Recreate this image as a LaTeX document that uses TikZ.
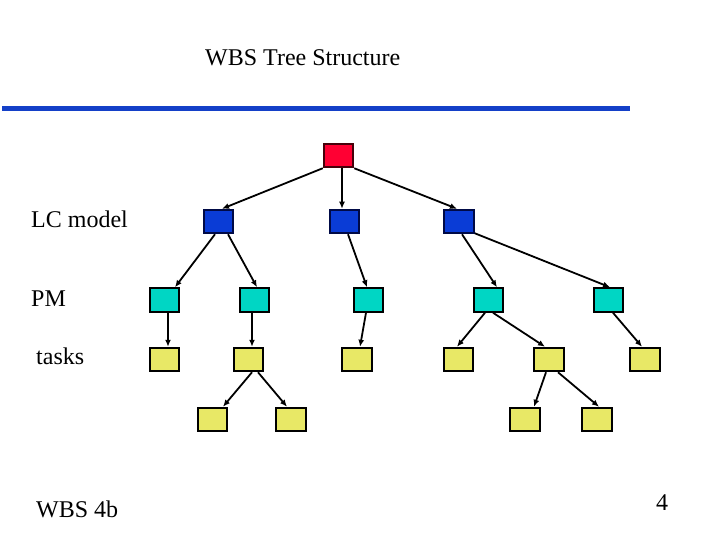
\documentclass[tikz,border=0pt]{standalone}
\usepackage{fontspec}
\setmainfont{Liberation Serif}
\usetikzlibrary{arrows.meta}
\definecolor{rootred}{RGB}{255,0,51}
\definecolor{rootedge}{RGB}{70,0,10}
\definecolor{lcblue}{RGB}{10,60,214}
\definecolor{lcedge}{RGB}{0,10,70}
\definecolor{pmcyan}{RGB}{0,214,196}
\definecolor{taskyellow}{RGB}{232,232,102}
\definecolor{rulecol}{RGB}{20,64,200}
\begin{document}
\begin{tikzpicture}[x=1pt,y=-1pt,
  wbox/.style={rectangle,draw=black,line width=2pt,minimum width=29.5pt,minimum height=23.5pt,inner sep=0pt},
  rootbox/.style={wbox,fill=rootred,draw=rootedge},
  lcbox/.style={wbox,fill=lcblue,draw=lcedge},
  pmbox/.style={wbox,fill=pmcyan},
  taskbox/.style={wbox,fill=taskyellow},
  link/.style={line width=1.8pt,-{Latex[length=7pt,width=6pt]}},
  lbl/.style={anchor=base west,inner sep=0pt,font=\fontsize{24}{28}\selectfont}]
\useasboundingbox (0,0) rectangle (720,540);
% title and rule
\node[lbl] (title) at (205,66) {WBS Tree Structure};
\coordinate (rl) at (2,108.5);
\coordinate (rr) at (630,108.5);
\draw[rulecol,line width=4.5pt] (rl) -- (rr);
% labels
\node[lbl] (lc) at (31,227) {LC model};
\node[lbl] (pm) at (31,306) {PM};
\node[lbl] (tk) at (36,364) {tasks};
\node[lbl] (wbs) at (36,517) {WBS 4b};
\node[lbl] (pg) at (656,510) {4};
% boxes
\node[rootbox] (R) at (338.5,155.5) {};
\node[lcbox] (B1) at (218.5,221.5) {};
\node[lcbox] (B2) at (344.5,221.5) {};
\node[lcbox] (B3) at (459,221.5) {};
\node[pmbox] (C1) at (164.5,300) {};
\node[pmbox] (C2) at (254.5,300) {};
\node[pmbox] (C3) at (368.5,300) {};
\node[pmbox] (C4) at (488.5,300) {};
\node[pmbox] (C5) at (608.5,300) {};
\node[taskbox] (Y1) at (164.5,359.5) {};
\node[taskbox] (Y2) at (248.5,359.5) {};
\node[taskbox] (Y3) at (357,359.5) {};
\node[taskbox] (Y4) at (458.5,359.5) {};
\node[taskbox] (Y5) at (549,359.5) {};
\node[taskbox] (Y6) at (645,359.5) {};
\node[taskbox] (Z1) at (212.5,419.5) {};
\node[taskbox] (Z2) at (291,419.5) {};
\node[taskbox] (Z3) at (525,419.5) {};
\node[taskbox] (Z4) at (597,419.5) {};
% connectors
\draw[link] (R.south west) -- ([xshift=3.5pt]B1.north);
\draw[link] ([xshift=3.5pt]R.south) -- ([xshift=-2.5pt]B2.north);
\draw[link] (R.south east) -- ([xshift=-2pt]B3.north);
\draw[link] ([xshift=-3.5pt]B1.south) -- ([xshift=10.5pt]C1.north);
\draw[link] ([xshift=9.5pt]B1.south) -- ([xshift=2.5pt]C2.north);
\draw[link] ([xshift=3.5pt]B2.south) -- ([xshift=-1.5pt]C3.north);
\draw[link] ([xshift=3pt]B3.south) -- ([xshift=8.5pt]C4.north);
\draw[link] ([yshift=1pt]B3.south east) -- ([xshift=1.5pt]C5.north);
\draw[link] ([xshift=3.5pt]C1.south) -- ([xshift=3.5pt]Y1.north);
\draw[link] ([xshift=-2.5pt]C2.south) -- ([xshift=3.5pt]Y2.north);
\draw[link] ([xshift=-2.5pt]C3.south) -- ([xshift=3pt]Y3.north);
\draw[link] ([xshift=-3.5pt]C4.south) -- ([xshift=-1.5pt]Y4.north);
\draw[link] ([xshift=4.5pt]C4.south) -- ([xshift=-4pt]Y5.north);
\draw[link] ([xshift=4.5pt]C5.south) -- ([xshift=-3pt]Y6.north);
\draw[link] ([xshift=3.5pt]Y2.south) -- ([xshift=10.5pt]Z1.north);
\draw[link] ([xshift=9.5pt]Y2.south) -- ([xshift=-4pt]Z2.north);
\draw[link] ([xshift=-3pt]Y5.south) -- ([xshift=9pt]Z3.north);
\draw[link] ([xshift=9pt]Y5.south) -- ([xshift=2pt]Z4.north);
\end{tikzpicture}
\end{document}
